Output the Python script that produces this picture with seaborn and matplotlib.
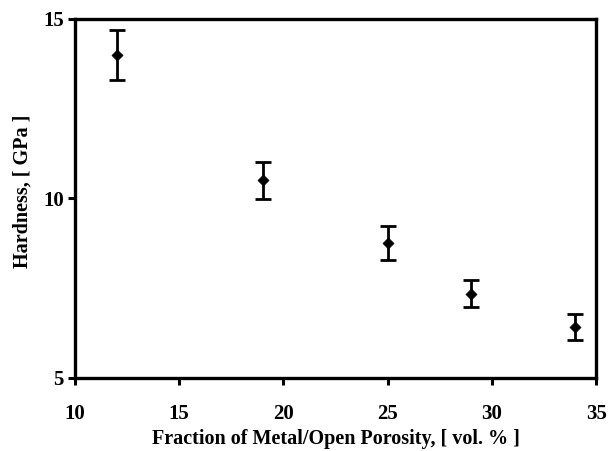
import matplotlib
matplotlib.use("Agg")
import matplotlib.pyplot as plt
import seaborn as sns
import pandas as pd

porosity = [12, 19, 25, 29, 34]
hardness = [14.0, 10.5, 8.75, 7.35, 6.42]
errors = [0.7, 0.52, 0.47, 0.37, 0.35]

sns.set_theme(style="white")
plt.rcParams['font.family'] = ['Liberation Serif', 'DejaVu Serif']
plt.rcParams['text.color'] = 'black'
plt.rcParams['axes.labelcolor'] = 'black'

df = pd.DataFrame({"x": porosity, "y": hardness, "err": errors})

fig = plt.figure(figsize=(6.09, 4.51), dpi=100)
ax = fig.add_axes([0.123, 0.162, 0.856, 0.796])
ax.errorbar(df["x"], df["y"], yerr=df["err"], fmt="none", ecolor="black",
            elinewidth=2.0, capsize=5.5, capthick=2.0)
sns.scatterplot(data=df, x="x", y="y", marker="D", color="black", s=32,
                edgecolor="black", ax=ax, zorder=3)

ax.set_xlim(10, 35)
ax.set_ylim(5, 15)
ax.set_xticks([10, 15, 20, 25, 30, 35])
ax.set_yticks([5, 10, 15])
for s in ax.spines.values():
    s.set_linewidth(2.4)
    s.set_color("black")
ax.tick_params(axis="both", direction="out", length=5, width=2.2, colors="black",
               labelsize=15, bottom=True, left=True, top=False, right=False)
ax.tick_params(axis="x", pad=14)
ax.tick_params(axis="y", pad=3)
for lab in ax.get_xticklabels() + ax.get_yticklabels():
    lab.set_fontweight("bold")
ax.set_xlabel("Fraction of Metal/Open Porosity, [ vol. % ]", fontsize=14.5,
              fontweight="bold")
ax.set_ylabel("Hardness, [ GPa ]", fontsize=14.5, fontweight="bold")
ax.xaxis.set_label_coords(0.5, -0.143)
ax.yaxis.set_label_coords(-0.081, 0.52)
ax.grid(False)
fig.savefig("out.png", dpi=100, facecolor="white")
